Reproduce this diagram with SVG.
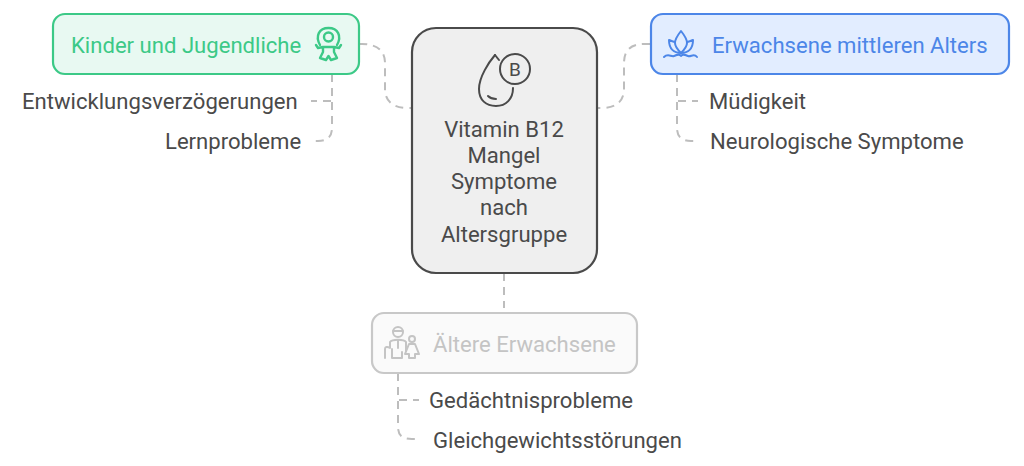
<svg xmlns="http://www.w3.org/2000/svg" width="1024" height="466" viewBox="0 0 1024 466">
<style>
text{font-family:Roboto,"Liberation Sans",sans-serif;font-size:22.1px}
.leaf{fill:#4a4a4a}
.mid{text-anchor:middle}
.con{fill:none;stroke:#bdbdbd;stroke-width:2;stroke-dasharray:8 6}
.ic{fill:none;stroke-width:2;stroke-linecap:round;stroke-linejoin:round}
</style>
<rect width="1024" height="466" fill="#fff"/>
<g id="connectors">
<path class="con" d="M359 44H362C376 44 385 50 385 63V89C385 102 394 108 408 108H412"/>
<path class="con" d="M650 44H644C631 44 624 50 624 63V89C624 102 615 108 602 108H597"/>
<path class="con" d="M504 273V308"/>
<path class="con" d="M332 74V101H311"/>
<path class="con" d="M332 74V128C332 137 327 141 318 141H310"/>
<path class="con" d="M677 74V101H698"/>
<path class="con" d="M677 74V128C677 137 682 141 691 141H699"/>
<path class="con" d="M398 373V400H419"/>
<path class="con" d="M398 373V427C398 436 403 439 412 439H420"/>
</g>
<g id="node-center">
<rect x="412" y="28" width="185" height="245" rx="24" fill="#efefef" stroke="#4a4a4a" stroke-width="2.2"/>
<g class="ic" stroke="#4a4a4a">
<path d="M495 55C489 62 479 77 479 89C479 100 486 106 496 106C506 106 513 99 513 88"/>
<path d="M495 55L499 60"/>
<path d="M488 96C490 98 492 99 496 99"/>
<circle cx="515" cy="69" r="15"/>
</g>
<text x="515" y="76" class="mid" fill="#4a4a4a" style="font-size:19px">B</text>
<g class="leaf mid">
<text x="504" y="136.500">Vitamin B12</text>
<text x="504" y="162.800">Mangel</text>
<text x="504" y="189">Symptome</text>
<text x="504" y="215.300">nach</text>
<text x="504" y="241.500">Altersgruppe</text>
</g>
</g>
<g id="node-kinder">
<rect x="53" y="14" width="306" height="60" rx="12" fill="#e8f9f2" stroke="#3cc987" stroke-width="2.2"/>
<text x="71" y="53" fill="#3cc987">Kinder und Jugendliche</text>
<g class="ic" stroke="#3cc987" style="stroke-width:2.4">
<path d="M320 45C315 36 319 28 328.500 28C338 28 342 36 337 45"/>
<circle cx="328.500" cy="37" r="4.500"/>
<path d="M316 45L318 48L323 47V52L320 58L326 60L328.500 56L331 60L337 58L334 52V47L339 48L341 45M323 47H334"/>
</g>
</g>
<g id="leaf-kinder">
<text x="22" y="109" class="leaf">Entwicklungsverzögerungen</text>
<text x="165" y="149" class="leaf">Lernprobleme</text>
</g>
<g id="node-erwachsene">
<rect x="651" y="14" width="358" height="60" rx="12" fill="#e2edff" stroke="#4c86e8" stroke-width="2.2"/>
<text x="712" y="53" fill="#4c86e8">Erwachsene mittleren Alters</text>
<g class="ic" stroke="#4c86e8">
<path d="M681 31C677 36 675 39 675 43C675 47 678 50 681 53C684 50 687 47 687 43C687 39 685 36 681 31Z"/>
<path d="M675 42C672 41 671 41 669 40C669 49 674 53 681 53C688 53 693 49 693 40C691 41 690 41 687 42"/>
<path d="M664 57C668 53 671 57 674 56C677 55 679 53 681 56C683 53 685 55 688 56C691 57 694 53 697 57"/>
</g>
</g>
<g id="leaf-erwachsene">
<text x="709" y="109" class="leaf">Müdigkeit</text>
<text x="710" y="149" class="leaf">Neurologische Symptome</text>
</g>
<g id="node-aeltere">
<rect x="372" y="313" width="265" height="60" rx="12" fill="#fafafa" stroke="#c8c8c8" stroke-width="2.2"/>
<text x="433" y="352" fill="#c4c4c4">Ältere Erwachsene</text>
<g class="ic" stroke="#c4c4c4">
<circle cx="398" cy="332" r="5"/>
<path d="M393 331H403"/>
<path d="M385 358V349C385 347 387 346 390 348V342C392 339 404 339 406 342V351"/>
<path d="M392 358V349M398 340V348M392 358H402V352"/>
<circle cx="412" cy="339" r="3"/>
<path d="M409 344H415L419 354H415V358H409V354H405Z"/>
</g>
</g>
<g id="leaf-aeltere">
<text x="429" y="408" class="leaf">Gedächtnisprobleme</text>
<text x="433" y="448" class="leaf">Gleichgewichtsstörungen</text>
</g>
</svg>
